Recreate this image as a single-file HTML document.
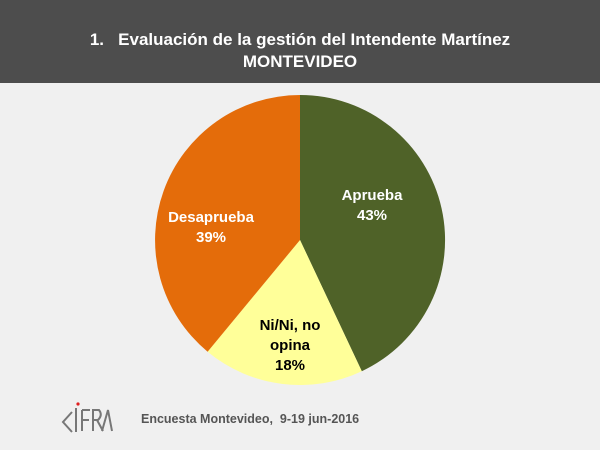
<!DOCTYPE html>
<html><head><meta charset="utf-8"><style>
body{margin:0;width:600px;height:450px;background:#f0f0f0;font-family:"Liberation Sans",sans-serif;overflow:hidden;position:relative}
.hd{position:absolute;left:0;top:0;width:600px;height:83px;background:#4d4d4d;color:#fff;text-align:center;font-weight:bold;font-size:17px;line-height:22px}
.hd div:first-child{padding-top:29px}
</style></head><body>
<div class="hd"><div>1.&nbsp;&nbsp; Evaluación de la gestión del Intendente Martínez</div><div>MONTEVIDEO</div></div>
<svg width="600" height="450" style="position:absolute;left:0;top:0">
<path d="M300,240 L300,95 A145,145 0 0 1 361.8,371.2 Z" fill="#4f6228"/>
<path d="M300,240 L361.8,371.2 A145,145 0 0 1 207.6,351.7 Z" fill="#ffff99"/>
<path d="M300,240 L207.6,351.7 A145,145 0 0 1 300,95 Z" fill="#e46c0a"/>
<g font-weight="bold" font-size="15" text-anchor="middle" font-family="Liberation Sans,sans-serif">
<text x="372" y="200" fill="#fff">Aprueba</text><text x="372" y="220" fill="#fff">43%</text>
<text x="211" y="222" fill="#fff">Desaprueba</text><text x="211" y="242" fill="#fff">39%</text>
<text x="290" y="330" fill="#000">Ni/Ni, no</text><text x="290" y="350" fill="#000">opina</text><text x="290" y="370" fill="#000">18%</text>
</g>
<g fill="none" stroke="#777" stroke-width="2">
<path d="M72,412 L63,422 L72,432"/><path d="M76,408 L76,432"/><path d="M82,410 L82,431 M82,410 L90,410 M82,420 L89,420"/>
<path d="M93,431 L93,410 L99,410 Q103,415 98,420 L93,420 M97,420 L103,431"/><path d="M102,431 L108,410 L112,431"/>
</g>
<circle cx="78" cy="404" r="1.6" fill="#e02020"/>
<text x="141" y="423" font-size="12.5" font-weight="bold" fill="#555" font-family="Liberation Sans,sans-serif">Encuesta Montevideo,&#160; 9-19 jun-2016</text>
</svg>
</body></html>
